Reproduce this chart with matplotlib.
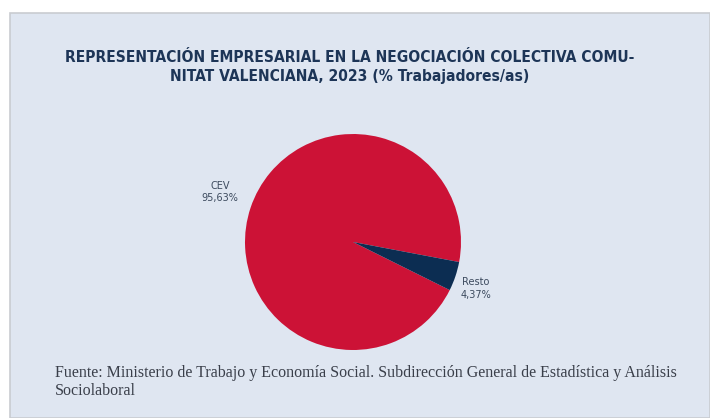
import numpy as np
import matplotlib
matplotlib.use('Agg')
import matplotlib.pyplot as plt
from matplotlib.patches import Rectangle

# data
labels = ['CEV', 'Resto']
values = [95.63, 4.37]
colors = ['#cc1236', '#0c2d52']
label_dist = [1.3, 1.2]
label_dy = [0.05, -0.05]

TITLE = ('REPRESENTACIÓN EMPRESARIAL EN LA NEGOCIACIÓN COLECTIVA COMU-\n'
         'NITAT VALENCIANA, 2023 (% Trabajadores/as)')
SOURCE = ('Fuente: Ministerio de Trabajo y Economía Social. Subdirección General de '
          'Estadística y Análisis\nSociolaboral')

W, H = 710, 418
fig = plt.figure(figsize=(W / 100, H / 100), dpi=100)
fig.patch.set_facecolor('white')

# panel background
fig.patches.append(Rectangle((10 / W, 0), 1 - 10 / W, (H - 13) / H,
                             transform=fig.transFigure, facecolor='#dfe6f1',
                             edgecolor='#c9ccd1', linewidth=1.2, zorder=-5))

fig.text(350 / W, 1 - 67 / H, TITLE, ha='center', va='center',
         fontsize=11.2, fontweight='bold', color='#1d3557',
         family='DejaVu Sans', stretch='condensed', linespacing=1.3)

fig.text(55 / W, 1 - 382 / H, SOURCE, ha='left', va='center',
         fontsize=11.5, color='#3a3f4a', family='Liberation Serif',
         linespacing=1.1)

# pie
cx, cy, r = 353, 242, 108
ax = fig.add_axes([(cx - r) / W, (H - cy - r) / H, 2 * r / W, 2 * r / H])
ax.set_zorder(2)
start = -10.7
ax.pie(values, colors=colors, startangle=start, counterclock=True, radius=1,
       wedgeprops=dict(linewidth=0))
ax.set_xlim(-1, 1)
ax.set_ylim(-1, 1)
ax.set_aspect('equal')
ax.axis('off')

cum = start
for lab, v, d, dy in zip(labels, values, label_dist, label_dy):
    mid = np.deg2rad(cum + v * 3.6 / 2)
    cum += v * 3.6
    ax.text(d * np.cos(mid), d * np.sin(mid) + dy,
            f'{lab}\n{v:.2f}%'.replace('.', ','), ha='center', va='center',
            fontsize=7, color='#3c4a5e', linespacing=1.3, clip_on=False)

fig.savefig('out.png', dpi=100)
